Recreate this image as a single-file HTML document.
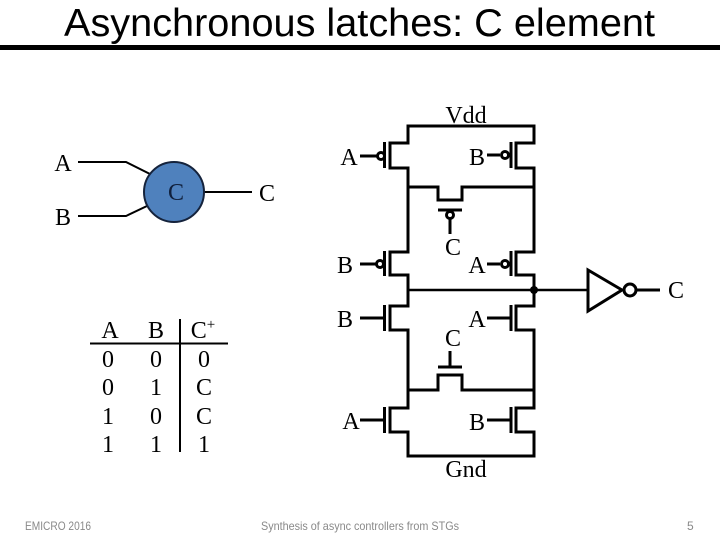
<!DOCTYPE html>
<html>
<head>
<meta charset="utf-8">
<style>
html,body{margin:0;padding:0;background:#fff;width:720px;height:540px;overflow:hidden}
svg{display:block}
.s{font-family:"Liberation Serif",serif;font-size:24px;fill:#000;text-anchor:middle}
.t{font-family:"Liberation Sans",sans-serif}
.f{font-family:"Liberation Sans",sans-serif;font-size:12px;fill:#898989}
</style>
</head>
<body>
<svg width="720" height="540" viewBox="0 0 720 540" xmlns="http://www.w3.org/2000/svg">
<text class="t" x="64" y="36" font-size="39" fill="#000" textLength="591" lengthAdjust="spacingAndGlyphs">Asynchronous latches: C element</text>
<rect x="0" y="45" width="720" height="5" fill="#000"/>

<!-- C element symbol -->
<g fill="none" stroke="#000" stroke-width="2">
<polyline points="78,162 126,162 150,174"/>
<polyline points="78,216 126,216 147,206"/>
<line x1="204" y1="192" x2="252" y2="192"/>
</g>
<circle cx="174" cy="192" r="30" fill="#4f81bd" stroke="#15233c" stroke-width="2"/>
<text class="s" x="63" y="171">A</text>
<text class="s" x="63" y="225">B</text>
<text class="s" x="176" y="200" style="fill:#10203c">C</text>
<text class="s" x="267" y="201">C</text>

<!-- Truth table -->
<line x1="90" y1="343.5" x2="228" y2="343.5" stroke="#000" stroke-width="2"/>
<line x1="180" y1="319" x2="180" y2="452" stroke="#000" stroke-width="2"/>
<text class="s" x="110" y="338">A</text><text class="s" x="156" y="338">B</text>
<text class="s" x="203" y="338">C<tspan font-size="15" dy="-9">+</tspan></text>
<text class="s" x="108" y="367">0</text><text class="s" x="156" y="367">0</text><text class="s" x="204" y="367">0</text>
<text class="s" x="108" y="395">0</text><text class="s" x="156" y="395">1</text><text class="s" x="204" y="395">C</text>
<text class="s" x="108" y="424">1</text><text class="s" x="156" y="424">0</text><text class="s" x="204" y="424">C</text>
<text class="s" x="108" y="452">1</text><text class="s" x="156" y="452">1</text><text class="s" x="204" y="452">1</text>

<!-- Transistor network -->
<g fill="none" stroke="#000" stroke-width="3">
<!-- outer loop through the transistor channels -->
<polygon points="408,126 534,126 534,143 516,143 516,168 534,168 534,252 516,252 516,275 534,275 534,306 516,306 516,330 534,330 534,408 516,408 516,432 534,432 534,456 408,456 408,432 390,432 390,408 408,408 408,330 390,330 390,306 408,306 408,275 390,275 390,252 408,252 408,168 390,168 390,143 408,143"/>
<!-- upper mid -->
<polyline points="408,187 438,187 438,200 462,200 462,187 534,187"/>
<!-- output -->
<line x1="408" y1="290" x2="588" y2="290" stroke-width="2.5"/>
<!-- lower mid -->
<polyline points="408,390 438,390 438,375 462,375 462,390 534,390"/>
<!-- gate bars -->
<line x1="384.500" y1="142" x2="384.500" y2="168"/>
<line x1="511" y1="142" x2="511" y2="168"/>
<line x1="384.500" y1="251" x2="384.500" y2="276"/>
<line x1="511" y1="251" x2="511" y2="276"/>
<line x1="384.500" y1="305" x2="384.500" y2="331"/>
<line x1="511" y1="305" x2="511" y2="331"/>
<line x1="384.500" y1="407" x2="384.500" y2="433"/>
<line x1="511" y1="407" x2="511" y2="433"/>
<line x1="438" y1="210" x2="462" y2="210"/>
<line x1="438" y1="367" x2="462" y2="367"/>
<!-- gate leads -->
<line x1="360" y1="156" x2="377" y2="156"/>
<line x1="487" y1="155" x2="500" y2="155"/>
<line x1="360" y1="264" x2="376" y2="264"/>
<line x1="487" y1="264" x2="500" y2="264"/>
<line x1="360" y1="318" x2="384" y2="318"/>
<line x1="487" y1="318" x2="511" y2="318"/>
<line x1="360" y1="420" x2="384" y2="420"/>
<line x1="487" y1="420" x2="511" y2="420"/>
<line x1="450" y1="219" x2="450" y2="234"/>
<line x1="450" y1="351" x2="450" y2="367"/>
<!-- bubbles -->
<circle cx="381" cy="156" r="3.500"/>
<circle cx="505" cy="155" r="3.500"/>
<circle cx="380" cy="264" r="3.500"/>
<circle cx="505" cy="264" r="3.500"/>
<circle cx="450" cy="215" r="3.500"/>
<!-- inverter -->
<polygon points="588,270 622,290 588,311"/>
<circle cx="630" cy="290" r="6"/>
<line x1="636" y1="290" x2="660" y2="290"/>
</g>
<circle cx="534" cy="290" r="4" fill="#000"/>

<text class="s" x="466" y="123">Vdd</text>
<text class="s" x="349" y="165">A</text>
<text class="s" x="477" y="165">B</text>
<text class="s" x="345" y="273">B</text>
<text class="s" x="453" y="255">C</text>
<text class="s" x="477" y="273">A</text>
<text class="s" x="345" y="327">B</text>
<text class="s" x="477" y="327">A</text>
<text class="s" x="453" y="346">C</text>
<text class="s" x="351" y="429">A</text>
<text class="s" x="477" y="430">B</text>
<text class="s" x="466" y="477">Gnd</text>
<text class="s" x="676" y="298">C</text>

<!-- footer -->
<text class="f" x="25" y="530" textLength="66" lengthAdjust="spacingAndGlyphs">EMICRO 2016</text>
<text class="f" x="261" y="530" textLength="198" lengthAdjust="spacingAndGlyphs">Synthesis of async controllers from STGs</text>
<text class="f" x="687" y="530">5</text>
</svg>
</body>
</html>
